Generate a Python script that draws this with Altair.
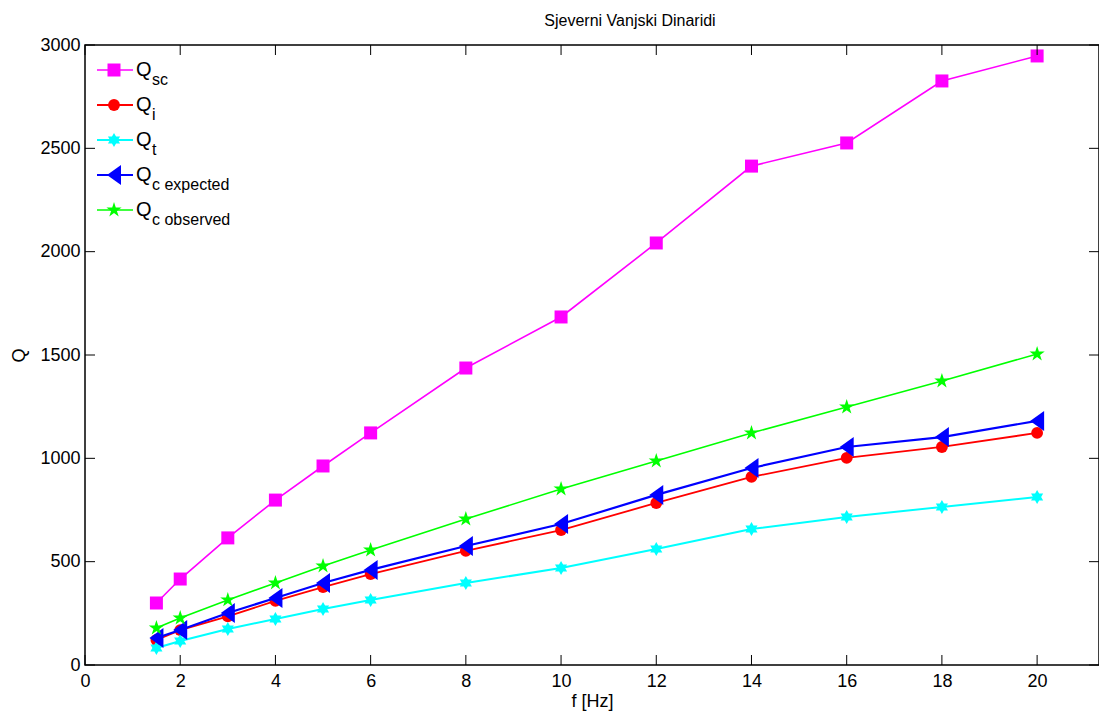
import altair as alt
import pandas as pd

# ---- data ----
freq = [1.5, 2, 3, 4, 5, 6, 8, 10, 12, 14, 16, 18, 20]
q_sc = [300, 416, 615, 798, 963, 1123, 1437, 1684, 2042, 2414, 2526, 2826, 2947]
q_i = [121, 169, 235, 310, 377, 440, 552, 653, 784, 910, 1002, 1055, 1123]
q_t = [82, 116, 174, 223, 271, 315, 397, 469, 561, 658, 716, 765, 813]
q_c_exp = [131, 169, 252, 324, 397, 460, 576, 682, 823, 953, 1055, 1103, 1181]
q_c_obs = [179, 227, 315, 397, 479, 556, 706, 852, 987, 1123, 1248, 1374, 1505]

series_values = [q_sc, q_i, q_t, q_c_exp, q_c_obs]
subscripts = ["sc", "i", "t", "c expected", "c observed"]
colors = ["#ff00ff", "#ff0000", "#00ffff", "#0000ff", "#00ff00"]
x_ticks = [0, 2, 4, 6, 8, 10, 12, 14, 16, 18, 20]
y_ticks = [0, 500, 1000, 1500, 2000, 2500, 3000]

# ---- styles ----
FONT = "Liberation Sans"
W, H = 1014, 620
TICK = 10
hexagram = ("M0,-1L0.2887,-0.5L0.866,-0.5L0.577,0L0.866,0.5L0.2887,0.5L0,1"
            "L-0.2887,0.5L-0.866,0.5L-0.577,0L-0.866,-0.5L-0.2887,-0.5Z")
pentagram = ("M0,-1L0.2245,-0.309L0.951,-0.309L0.363,0.118L0.588,0.809L0,0.382"
             "L-0.588,0.809L-0.363,0.118L-0.951,-0.309L-0.2245,-0.309Z")
tri_left = "M-0.7,0L0.7,-1L0.7,1Z"
shapes = ["square", "circle", hexagram, tri_left, pentagram]
sizes = [169, 140, 196, 400, 256]
line_widths = [1.6, 1.8, 2, 2.2, 1.6]

xs = alt.Scale(domain=[0, 21.3], nice=False, zero=False)
ys = alt.Scale(domain=[0, 3000], nice=False)

x_axis = alt.Axis(values=x_ticks, ticks=False, domain=False, grid=False,
                  format="d",
                  labelFontSize=18, labelFont=FONT, labelColor="black",
                  labelPadding=7, title="f [Hz]", titleFontSize=18,
                  titleFont=FONT, titleFontWeight="normal", titleColor="black",
                  titlePadding=2, labelFlush=False)
y_axis = alt.Axis(values=y_ticks, ticks=False, domain=False, grid=False,
                  format="d",
                  labelFontSize=18, labelFont=FONT, labelColor="black",
                  labelPadding=5, title="Q", titleFontSize=18, titleFont=FONT,
                  titleFontWeight="normal", titleColor="black", titlePadding=11,
                  labelFlush=False)

layers = []
for i, vals in enumerate(series_values):
    df = pd.DataFrame({"f": freq, "q": vals})
    base = alt.Chart(df)
    line = base.mark_line(color=colors[i], strokeWidth=line_widths[i]).encode(
        x=alt.X("f:Q", scale=xs, axis=x_axis),
        y=alt.Y("q:Q", scale=ys, axis=y_axis),
    )
    pts = base.mark_point(shape=shapes[i], size=sizes[i], filled=True,
                          color=colors[i], opacity=1).encode(
        x=alt.X("f:Q", scale=xs, axis=x_axis),
        y=alt.Y("q:Q", scale=ys, axis=y_axis),
    )
    layers += [line, pts]

# inward-pointing ticks on all four sides
xt = pd.DataFrame({"v": x_ticks})
yt = pd.DataFrame({"v": y_ticks})
for y0, y1 in [(H, H - TICK), (0, TICK)]:
    layers.append(alt.Chart(xt).mark_rule(color="black", strokeWidth=1).encode(
        x=alt.X("v:Q", scale=xs, axis=x_axis), y=alt.value(y0), y2=alt.value(y1)))
for x0, x1 in [(0, TICK), (W, W - TICK)]:
    layers.append(alt.Chart(yt).mark_rule(color="black", strokeWidth=1).encode(
        y=alt.Y("v:Q", scale=ys, axis=y_axis), x=alt.value(x0), x2=alt.value(x1)))

# manual legend (top-left, inside the axes)
row_y = [25, 60, 95, 130, 165]
for i, sub in enumerate(subscripts):
    one = pd.DataFrame({"q": ["Q"], "s": [sub]})
    c = alt.Chart(one)
    layers.append(c.mark_rule(color=colors[i], strokeWidth=line_widths[i]).encode(
        x=alt.value(12), x2=alt.value(48), y=alt.value(row_y[i])))
    layers.append(c.mark_point(shape=shapes[i], size=sizes[i], filled=True,
                               color=colors[i], opacity=1).encode(
        x=alt.value(29), y=alt.value(row_y[i])))
    layers.append(c.mark_text(align="left", baseline="alphabetic", font=FONT,
                              fontSize=20, color="black").encode(
        x=alt.value(51), y=alt.value(row_y[i] + 6), text="q:N"))
    layers.append(c.mark_text(align="left", baseline="alphabetic", font=FONT,
                              fontSize=16, color="black").encode(
        x=alt.value(67), y=alt.value(row_y[i] + 15), text="s:N"))

chart = alt.layer(*layers).properties(
    width=W, height=H,
    title=alt.TitleParams("Sjeverni Vanjski Dinaridi", font=FONT, fontSize=16,
                          fontWeight="normal", color="black", anchor="middle",
                          dx=38, offset=7),
    autosize=alt.AutoSizeParams(type="none"),
    padding={"left": 77, "top": 37, "right": 0, "bottom": 50},
).configure_view(stroke="black", strokeWidth=1.5)

chart.save("out.html", embed_options={"renderer": "svg", "actions": False})
